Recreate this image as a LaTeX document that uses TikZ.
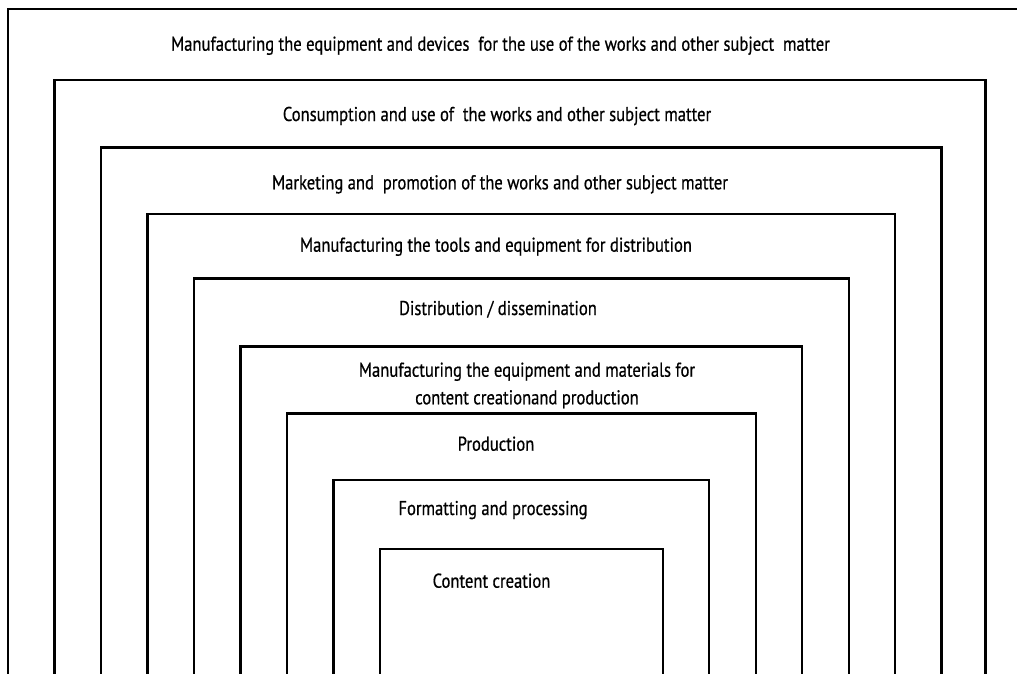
\documentclass[tikz,border=0pt]{standalone}
\usepackage{fontspec}
\newfontfamily\labelfamily[FakeStretch=0.83,FakeBold=0.6]{PT Sans}
\newcommand{\labelfont}{\labelfamily\fontsize{20}{27.6}\selectfont}
\begin{document}
\begin{tikzpicture}
[x=1pt,y=-1pt,
  framedecorate/.style={draw,line width=2.2pt,line cap=rect},%
  labeldecorate/.style={anchor=base,font=\labelfont,align=center,inner sep=0pt}]
\useasboundingbox (0,0) rectangle (1017,673);
%% frames, open at the bottom
\foreach \level/\xl/\yt/\xr in {1/8/9/1032, 2/54.5/80/985.5,
  3/101/147.5/941.5, 4/147.5/214/895.3, 5/194/278.5/848.7,
  6/240.5/346.5/802.3, 7/287/413.5/755.7, 8/333.5/480/709,
  9/380/549.3/662.7} {
  \draw[framedecorate] (\xl,680) -- (\xl,\yt) -- (\xr,\yt) -- (\xr,680);
}
%% labels
\node (devices) at (500.5,50.7) [labeldecorate]
  {Manufacturing the equipment and devices~ for the use of the works and other subject~ matter};
\node (consumption) at (497,121) [labeldecorate]
  {Consumption and use of~ the works and other subject matter};
\node (marketing) at (500,189.3) [labeldecorate]
  {Marketing and~ promotion of the works and other subject matter};
\node (tools) at (496,251.7) [labeldecorate]
  {Manufacturing the tools and equipment for distribution};
\node (distribution) at (498,315) [labeldecorate]
  {Distribution / dissemination};
\node (materials) at (527,404.3) [labeldecorate]
  {Manufacturing the equipment and materials for\\content creationand production};
\node (production) at (496,450.7) [labeldecorate] {Production};
\node (formatting) at (493,515) [labeldecorate] {Formatting and processing};
\node (creation) at (491.5,587.7) [labeldecorate] {Content creation};
\end{tikzpicture}
\end{document}
